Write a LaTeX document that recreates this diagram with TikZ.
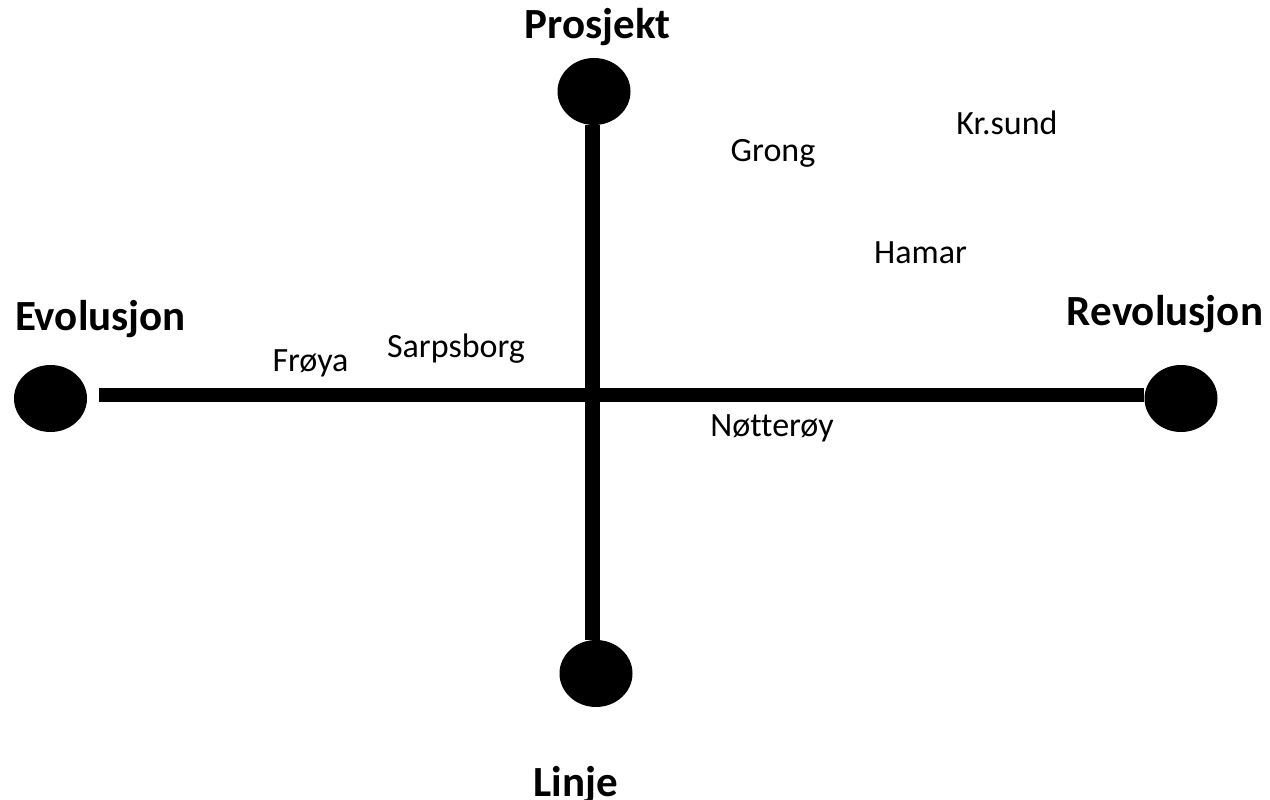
\documentclass[tikz,border=0pt]{standalone}
\usepackage{fontspec}
\setmainfont[Ligatures=NoCommon]{Carlito}
\usetikzlibrary{shapes.geometric}
\tikzset{
  endpoint/.style={ellipse, fill=black, draw=none, minimum width=73pt, minimum height=67pt, inner sep=0pt},
  axisline/.style={line width=14.5pt, black},
  biglabel/.style={anchor=base, inner sep=0pt, font=\fontsize{43}{50}\selectfont\bfseries},
  smalllabel/.style={anchor=base, inner sep=0pt, font=\fontsize{34}{40}\selectfont}
}
\begin{document}
\begin{tikzpicture}[x=1pt,y=-1pt]
\useasboundingbox (0,0) rectangle (1270,800);
% end points
\node[endpoint] (T) at (594,91.5) {};
\node[endpoint] (B) at (596,673.5) {};
\node[endpoint] (L) at (50.5,398.5) {};
\node[endpoint] (R) at (1181,398.5) {};
% axes
\draw[axisline] ([xshift=12pt,yshift=3.5pt]L.east) -- ([yshift=3.5pt]R.west);
\draw[axisline] ([xshift=-1.5pt]T.south) -- ([xshift=-3.5pt]B.north);
% axis labels
\node[biglabel] (lp) at (597.5,39) {Prosjekt};
\node[biglabel] (le) at (100.5,330) {Evolusjon};
\node[biglabel] (lr) at (1165,325) {Revolusjon};
\node[biglabel] (ll) at (575.5,796) {Linje};
% places
\node[smalllabel] (grong) at (773,161) {Grong};
\node[smalllabel] (krsund) at (1007,134) {Kr.sund};
\node[smalllabel] (hamar) at (920.5,263) {Hamar};
\node[smalllabel] (froya) at (310.5,371) {Frøya};
\node[smalllabel] (sarpsborg) at (456,357) {Sarpsborg};
\node[smalllabel] (notteroy) at (772,436) {Nøtterøy};
\end{tikzpicture}
\end{document}
